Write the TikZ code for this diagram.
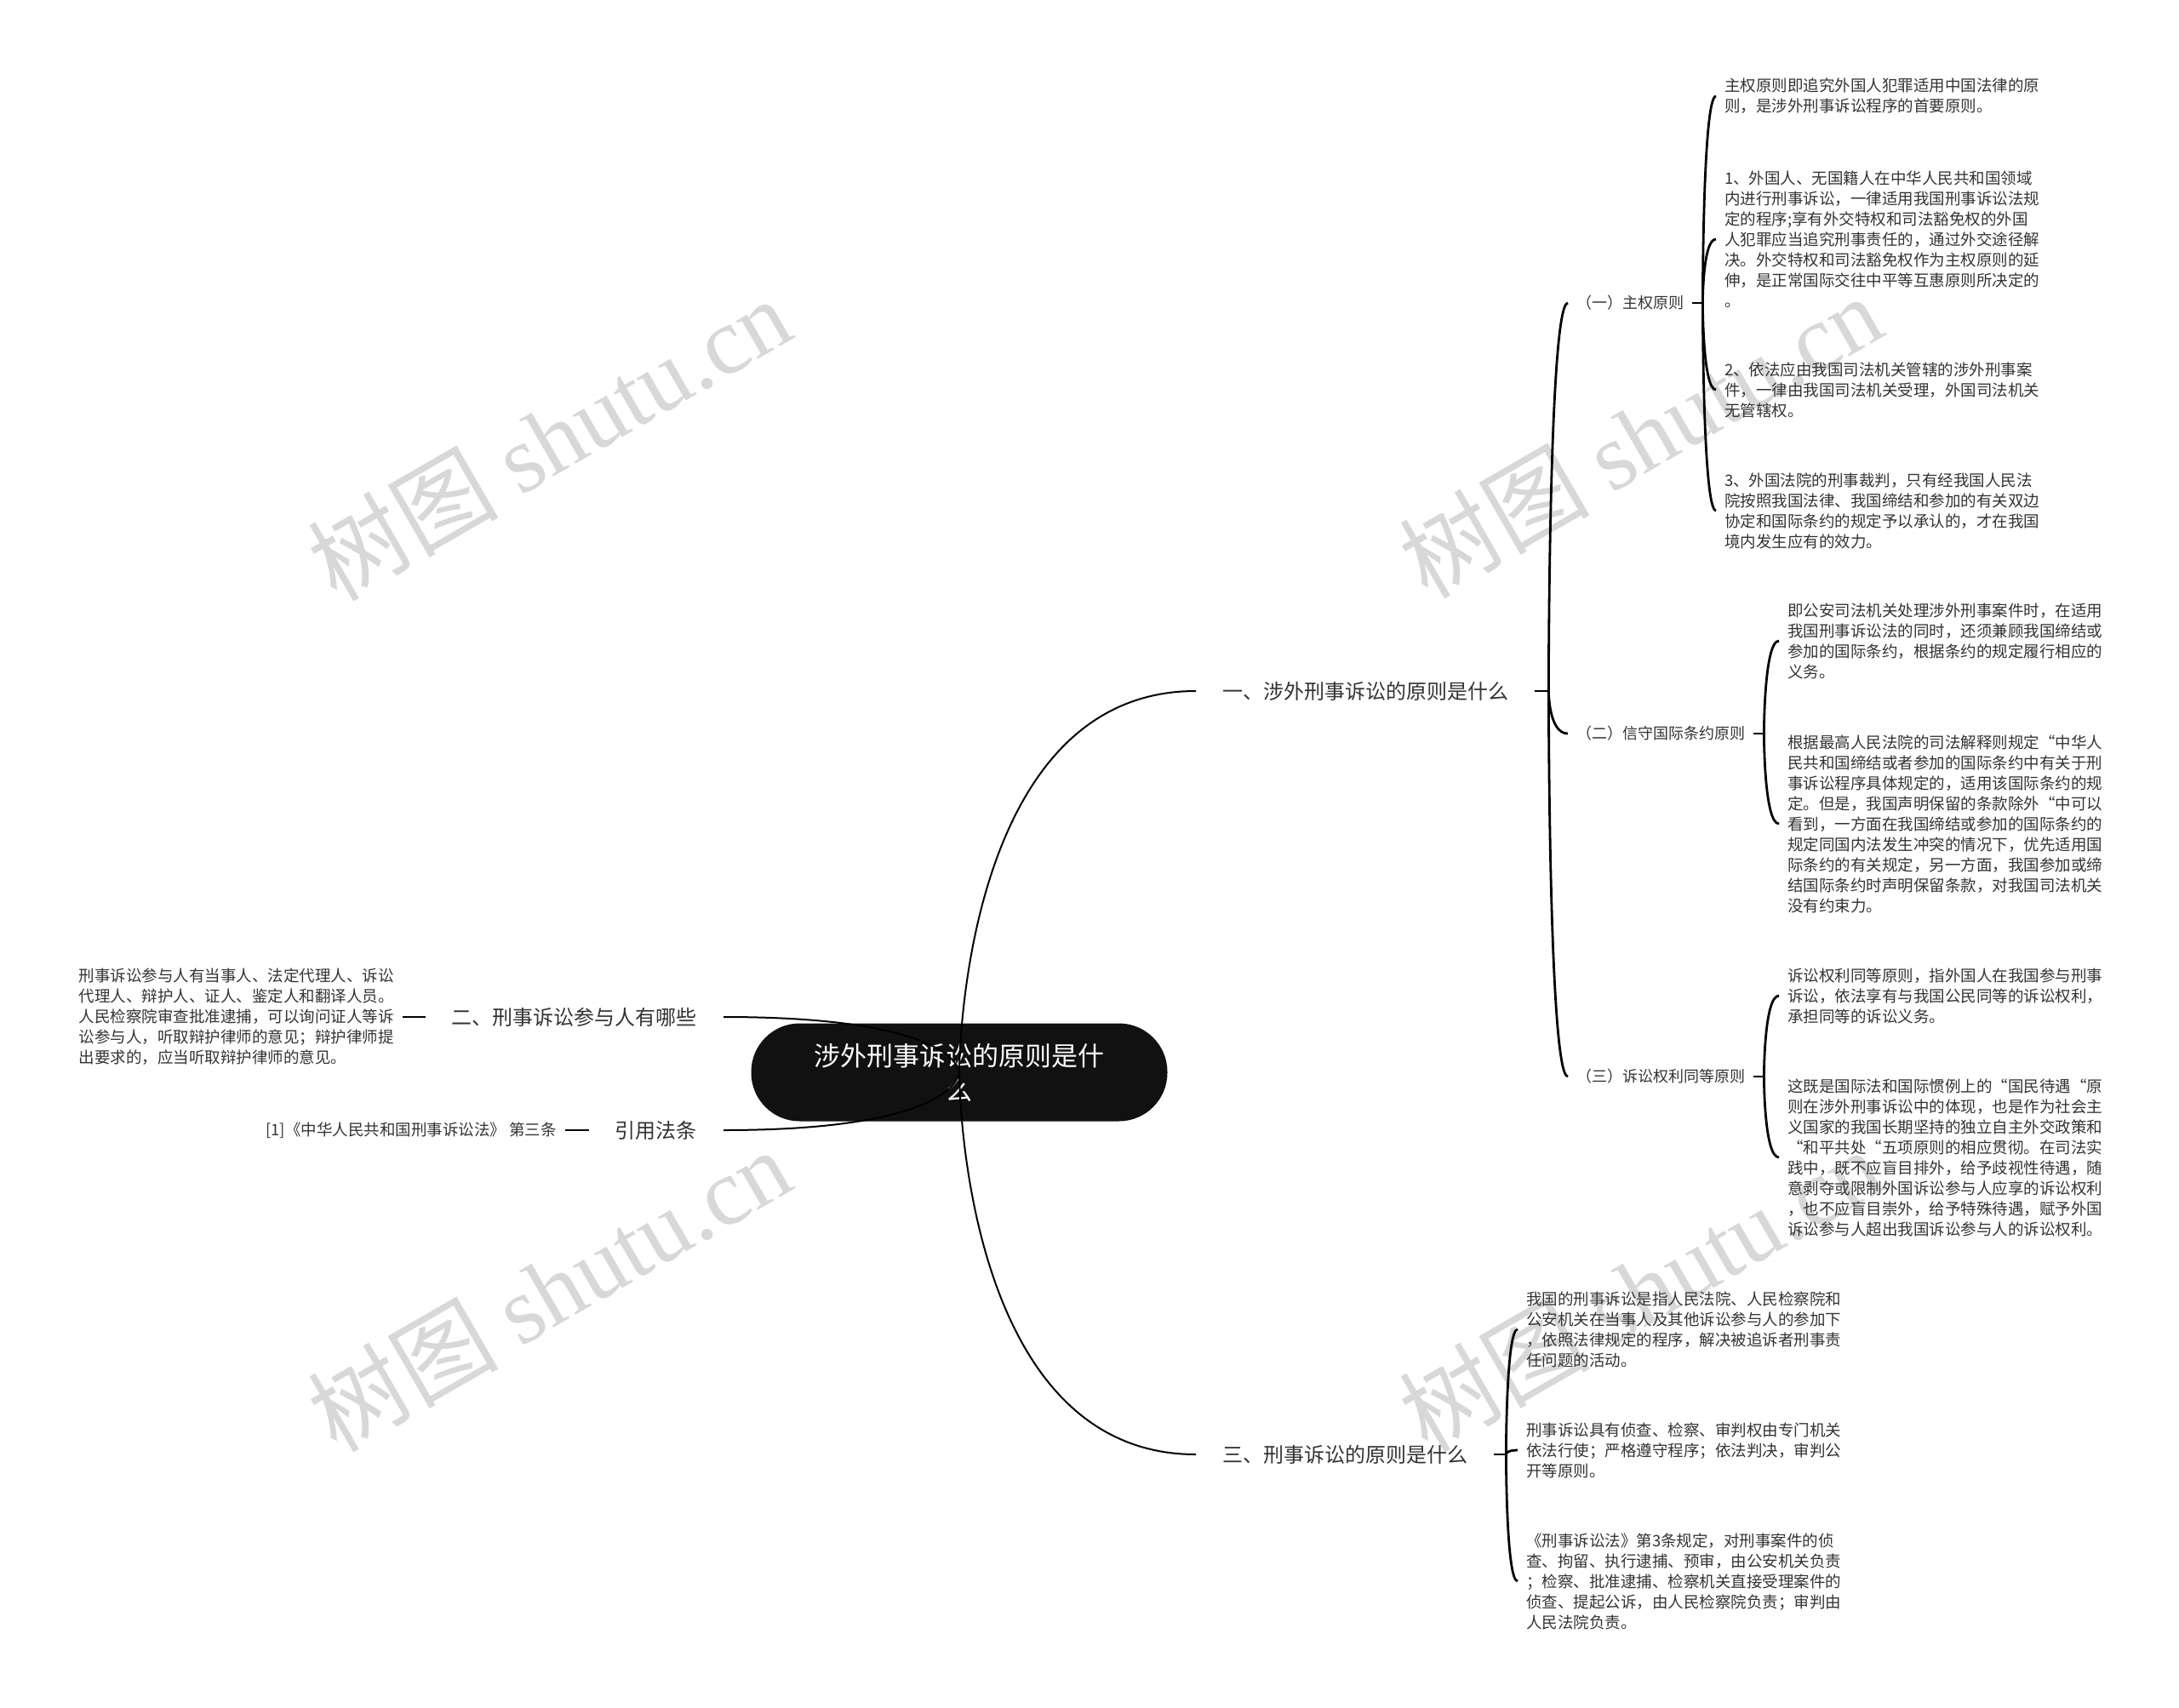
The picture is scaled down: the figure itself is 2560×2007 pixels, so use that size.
\documentclass[tikz,border=0pt]{standalone}
\usepackage{fontspec}
\setmainfont{Noto Sans CJK SC}
\newfontfamily\wmlatin{Liberation Serif}
\usetikzlibrary{calc}
\definecolor{txt}{HTML}{333333}
\definecolor{rootfill}{HTML}{111111}
\definecolor{wm}{HTML}{D8D8D8}
\newcommand\mmlink[3][link]{\draw[#1] (#2) .. controls (#2) and (#2 |- #3) .. (#3);}
\begin{document}
\begin{tikzpicture}[x=1pt,y=-1pt,
  link/.style={line width=2pt, black},
  brk/.style={line width=2.8pt, black},
  rootbox/.style={fill=rootfill, rounded corners=57pt, minimum width=489pt, minimum height=115pt,
    text=white, font=\fontsize{31pt}{40pt}\selectfont, align=center, inner sep=0pt},
  lvone/.style={text=txt, font=\fontsize{24pt}{30pt}\selectfont, inner xsep=31pt, inner ysep=0pt},
  lvtwo/.style={text=txt, font=\fontsize{18pt}{24pt}\selectfont, inner xsep=10pt, inner ysep=0pt},
  leaf/.style={text=txt, font=\fontsize{18.5pt}{24pt}\selectfont, align=left, inner xsep=10pt, inner ysep=0pt},
  wmark/.style={text=wm, font=\fontsize{112pt}{112pt}\selectfont, rotate=30, inner sep=0pt}]

\fill[white] (0,0) rectangle (2560,2007);
\useasboundingbox (0,0) rectangle (2560,2007);

% watermarks
\node[wmark] (w1) at (645,515) {树图 {\wmlatin shutu.cn}};
\node[wmark] (w2) at (1927,512) {树图 {\wmlatin shutu.cn}};
\node[wmark] (w3) at (645,1515) {树图 {\wmlatin shutu.cn}};
\node[wmark] (w4) at (1927,1515) {树图 {\wmlatin shutu.cn}};

% root
\node[rootbox] (root) at (1127,1260) {涉外刑事诉讼的原则是什\\么};

% level 1
\node[lvone, anchor=west] (n1) at (1405,812) {一、涉外刑事诉讼的原则是什么};
\node[lvone, anchor=west] (n3) at (1405,1709) {三、刑事诉讼的原则是什么};
\node[lvone, anchor=east] (n2) at (850,1195) {二、刑事诉讼参与人有哪些};
\node[lvone, anchor=east] (n4) at (850,1328) {引用法条};

% level 2
\node[lvtwo, anchor=west] (c1) at (1842,356) {（一）主权原则};
\node[lvtwo, anchor=west] (c2) at (1842,862) {（二）信守国际条约原则};
\node[lvtwo, anchor=west] (c3) at (1842,1265) {（三）诉讼权利同等原则};

% leaves of (一)
\node[leaf, anchor=west] (l11) at (2016,113) {主权原则即追究外国人犯罪适用中国法律的原\\则，是涉外刑事诉讼程序的首要原则。};
\node[leaf, anchor=west] (l12) at (2016,281) {1、外国人、无国籍人在中华人民共和国领域\\内进行刑事诉讼，一律适用我国刑事诉讼法规\\定的程序;享有外交特权和司法豁免权的外国\\人犯罪应当追究刑事责任的，通过外交途径解\\决。外交特权和司法豁免权作为主权原则的延\\伸，是正常国际交往中平等互惠原则所决定的\\。};
\node[leaf, anchor=west] (l13) at (2016,458) {2、依法应由我国司法机关管辖的涉外刑事案\\件，一律由我国司法机关受理，外国司法机关\\无管辖权。};
\node[leaf, anchor=west] (l14) at (2016,600) {3、外国法院的刑事裁判，只有经我国人民法\\院按照我国法律、我国缔结和参加的有关双边\\协定和国际条约的规定予以承认的，才在我国\\境内发生应有的效力。};

% leaves of (二)
\node[leaf, anchor=west] (l21) at (2090,753) {即公安司法机关处理涉外刑事案件时，在适用\\我国刑事诉讼法的同时，还须兼顾我国缔结或\\参加的国际条约，根据条约的规定履行相应的\\义务。};
\node[leaf, anchor=west] (l22) at (2090,968) {根据最高人民法院的司法解释则规定“中华人\\民共和国缔结或者参加的国际条约中有关于刑\\事诉讼程序具体规定的，适用该国际条约的规\\定。但是，我国声明保留的条款除外“中可以\\看到，一方面在我国缔结或参加的国际条约的\\规定同国内法发生冲突的情况下，优先适用国\\际条约的有关规定，另一方面，我国参加或缔\\结国际条约时声明保留条款，对我国司法机关\\没有约束力。};

% leaves of (三)
\node[leaf, anchor=west] (l31) at (2090,1170) {诉讼权利同等原则，指外国人在我国参与刑事\\诉讼，依法享有与我国公民同等的诉讼权利，\\承担同等的诉讼义务。};
\node[leaf, anchor=west] (l32) at (2090,1360) {这既是国际法和国际惯例上的“国民待遇“原\\则在涉外刑事诉讼中的体现，也是作为社会主\\义国家的我国长期坚持的独立自主外交政策和\\“和平共处“五项原则的相应贯彻。在司法实\\践中，既不应盲目排外，给予歧视性待遇，随\\意剥夺或限制外国诉讼参与人应享的诉讼权利\\，也不应盲目崇外，给予特殊待遇，赋予外国\\诉讼参与人超出我国诉讼参与人的诉讼权利。};

% leaves of 三
\node[leaf, anchor=west] (m1) at (1783,1562) {我国的刑事诉讼是指人民法院、人民检察院和\\公安机关在当事人及其他诉讼参与人的参加下\\，依照法律规定的程序，解决被追诉者刑事责\\任问题的活动。};
\node[leaf, anchor=west] (m2) at (1783,1704) {刑事诉讼具有侦查、检察、审判权由专门机关\\依法行使；严格遵守程序；依法判决，审判公\\开等原则。};
\node[leaf, anchor=west] (m3) at (1783,1858) {《刑事诉讼法》第3条规定，对刑事案件的侦\\查、拘留、执行逮捕、预审，由公安机关负责\\；检察、批准逮捕、检察机关直接受理案件的\\侦查、提起公诉，由人民检察院负责；审判由\\人民法院负责。};

% left leaves
\node[leaf, anchor=east] (p1) at (473,1195) {刑事诉讼参与人有当事人、法定代理人、诉讼\\代理人、辩护人、证人、鉴定人和翻译人员。\\人民检察院审查批准逮捕，可以询问证人等诉\\讼参与人，听取辩护律师的意见；辩护律师提\\出要求的，应当听取辩护律师的意见。};
\node[leaf, anchor=east] (p2) at (664,1328) {[1]《中华人民共和国刑事诉讼法》 第三条};

% connectors from root
\mmlink{root.center}{n1.west}
\mmlink{root.center}{n3.west}
\mmlink{root.center}{n2.east}
\mmlink{root.center}{n4.east}

% left side
\draw[brk] (n2.west) -- (p1.east);
\draw[brk] (n4.west) -- (p2.east);

% branch 一
\draw[brk] (n1.east) -- ++(16,0) coordinate (s1);
\mmlink[brk]{s1}{c1.west}
\mmlink[brk]{s1}{c2.west}
\mmlink[brk]{s1}{c3.west}

\draw[brk] (c1.east) -- ++(12,0) coordinate (s11);
\mmlink[brk]{s11}{l11.west}
\mmlink[brk]{s11}{l12.west}
\mmlink[brk]{s11}{l13.west}
\mmlink[brk]{s11}{l14.west}

\draw[brk] (c2.east) -- ++(12,0) coordinate (s12);
\mmlink[brk]{s12}{l21.west}
\mmlink[brk]{s12}{l22.west}

\draw[brk] (c3.east) -- ++(12,0) coordinate (s13);
\mmlink[brk]{s13}{l31.west}
\mmlink[brk]{s13}{l32.west}

% branch 三
\draw[brk] (n3.east) -- ++(14,0) coordinate (s3);
\mmlink[brk]{s3}{m1.west}
\mmlink[brk]{s3}{m2.west}
\mmlink[brk]{s3}{m3.west}

\end{tikzpicture}
\end{document}
